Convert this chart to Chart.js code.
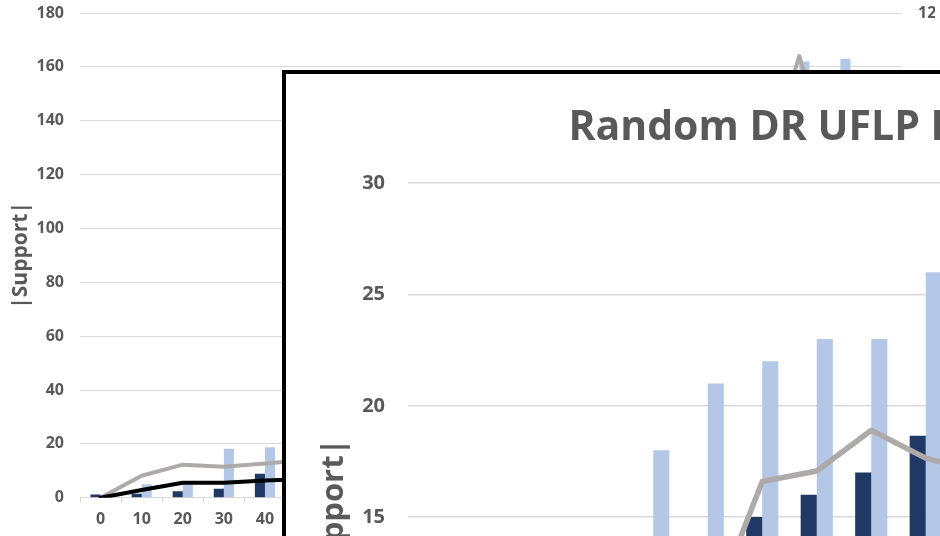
<!DOCTYPE html>
<html>
<head>
<meta charset="utf-8">
<script src="https://cdn.jsdelivr.net/npm/chart.js@4.4.1/dist/chart.umd.min.js"></script>
<style>
  html, body { margin: 0; padding: 0; background: #fff; width: 940px; height: 536px; overflow: hidden; }
  #back { position: absolute; left: 0; top: 0; }
  #inset { position: absolute; left: 282px; top: 70px; border: 4px solid #000; background: #fff; }
  #inset canvas { display: block; }
</style>
</head>
<body>
<canvas id="back" width="940" height="536"></canvas>
<div id="inset"><canvas id="zoom" width="1150" height="836"></canvas></div>
<script>
// --- DATA: background chart ---
const backLabels = ['0','10','20','30','40','50','60','70','80','90','100','110','120','130','140','150','160','170','180','190'];
const backDark  = [1.2, 1.5, 2.4, 3.4, 8.9, 10, 14, 16, 20, 25, 32, 40, 50, 62, 75, 90, 110, 130, 145, 150];
const backLight = [0, 5, 5.5, 18.2, 18.8, 22, 25, 30, 38, 45, 55, 68, 80, 95, 110, 130, 150, 162, 163, 140];
const backGrey  = [0, 8.2, 12.3, 11.5, 12.7, 14, 17, 20, 25, 30, 38, 45, 55, 68, 80, 95, 113, 164, 113, 120];
const backBlack = [0, 2.9, 5.6, 5.6, 6.4, 7, 8, 9, 10, 12, 14, 16, 18, 20, 22, 25, 28, 32, 35, 38];
const backTicksLeft = { min: 0, max: 180, step: 20 };
const backTicksRight = { min: 0, max: 12, step: 2 };

// --- DATA: inset (zoomed) chart ---
const zoomTitle = 'Random DR UFLP Instances';
const zoomLabels = ['0','10','20','30','40','50','60','70','80','90','100','110','120','130','140','150','160','170'];
const zoomDark  = [1, 2, 3, 4, 9, 12, 15, 16, 17, 18.65, 20, 22, 25, 28, 30, 33, 36, 40];
const zoomLight = [5, 8, 10, 13, 18, 21, 22, 23, 23, 26, 28, 30, 34, 38, 42, 46, 50, 55];
const zoomGrey  = [0, 7.5, 12, 11.5, 12.5, 10.3, 16.6, 17.07, 18.9, 17.65, 17, 19, 21, 23, 25, 27, 29, 31];
const zoomBlack = [0, 2.9, 5.6, 5.6, 6.4, 6.8, 7.2, 7.6, 8, 8.5, 9, 9.5, 10, 10.5, 11, 11.5, 12, 12.5];
const zoomTicks = { min: 0, max: 30, step: 5 };

// --- STYLE ---
const LABEL_GREY = '#595959';
const GRID_GREY = '#D9D9D9';
const NAVY = '#1F3864';
const LIGHT_BLUE = '#B4C7E7';
const LINE_GREY = '#AEAAAA';

Chart.defaults.font.family = "'Open Sans', sans-serif";
Chart.defaults.font.weight = 'bold';
Chart.defaults.color = LABEL_GREY;
Chart.defaults.animation = false;

function lineSet(label, data, color, width) {
    return {
        type: 'line', label: label, data: data, yAxisID: 'y',
        borderColor: color, borderWidth: width, pointRadius: 0, tension: 0,
        borderJoinStyle: 'round', borderCapStyle: 'round', fill: false
    };
}

function barSet(label, data, color, catPct) {
    return {
        type: 'bar', label: label, data: data, backgroundColor: color,
        barPercentage: 1, categoryPercentage: catPct
    };
}

// fixed axis width; drop the vertical label padding so layout.padding rules the plot top
const fitAxis = w => scale => {
    scale.width = w;
    scale.paddingTop = 0;
    scale.paddingBottom = 0;
};

// --- BACKGROUND CHART ---
new Chart(document.getElementById('back'), {
    type: 'bar',
    data: {
        labels: backLabels,
        datasets: [
            lineSet('Black', backBlack, '#000000', 4),
            lineSet('Grey', backGrey, LINE_GREY, 4),
            barSet('Dark', backDark, NAVY, 0.49),
            barSet('Light', backLight, LIGHT_BLUE, 0.49)
        ]
    },
    options: {
        responsive: false,
        layout: { padding: { top: 13, right: 5, bottom: 0, left: 0 } },
        plugins: { legend: { display: false }, tooltip: { enabled: false } },
        scales: {
            x: {
                grid: { offset: true, drawOnChartArea: false, color: GRID_GREY, tickLength: 5 },
                border: { color: GRID_GREY },
                ticks: { padding: 7, font: { size: 16 }, maxRotation: 0, autoSkip: false }
            },
            y: {
                min: backTicksLeft.min, max: backTicksLeft.max,
                afterFit: fitAxis(80),
                ticks: { stepSize: backTicksLeft.step, padding: 16, font: { size: 16 } },
                grid: { color: GRID_GREY, drawTicks: false },
                border: { display: false },
                title: { display: true, text: '|Support|', font: { size: 21 }, padding: { top: 8, bottom: 4 } }
            },
            y2: {
                position: 'right',
                min: backTicksRight.min, max: backTicksRight.max,
                afterFit: fitAxis(33),
                ticks: { stepSize: backTicksRight.step, padding: 16, font: { size: 16 } },
                grid: { drawOnChartArea: false, drawTicks: false },
                border: { display: false }
            }
        }
    }
});

// --- INSET CHART ---
new Chart(document.getElementById('zoom'), {
    type: 'bar',
    data: {
        labels: zoomLabels,
        datasets: [
            lineSet('Black', zoomBlack, '#000000', 5.5),
            lineSet('Grey', zoomGrey, LINE_GREY, 5.5),
            barSet('Dark', zoomDark, NAVY, 0.59),
            barSet('Light', zoomLight, LIGHT_BLUE, 0.59)
        ]
    },
    options: {
        responsive: false,
        layout: { padding: { top: 0, right: 47, bottom: 13, left: 20 } },
        plugins: {
            legend: { display: false },
            tooltip: { enabled: false },
            title: {
                display: true, text: zoomTitle, color: LABEL_GREY,
                font: { size: 41, weight: 'bold' }, padding: { top: 30, bottom: 30 }
            }
        },
        scales: {
            x: {
                grid: { offset: true, drawOnChartArea: false, color: GRID_GREY, tickLength: 6 },
                border: { color: GRID_GREY },
                ticks: { padding: 8, font: { size: 20 }, maxRotation: 0, autoSkip: false }
            },
            y: {
                min: zoomTicks.min, max: zoomTicks.max,
                afterFit: fitAxis(102),
                ticks: { stepSize: zoomTicks.step, padding: 23, font: { size: 20 } },
                grid: { color: GRID_GREY, lineWidth: 1.5, drawTicks: false },
                border: { display: false },
                title: { display: true, text: '|Support|', font: { size: 31 }, padding: { top: 10, bottom: 8 } }
            }
        }
    }
});
</script>
</body>
</html>
